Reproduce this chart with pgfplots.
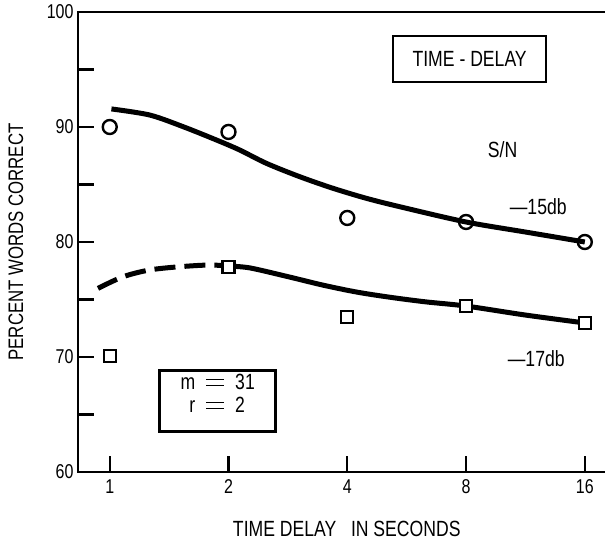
\documentclass[border=0pt]{standalone}
\usepackage{fontspec}
\setmainfont{Liberation Sans}[FakeStretch=0.8]
\usepackage{pgfplots}
\pgfplotsset{compat=1.18}
\newcommand{\fs}[1]{\fontsize{#1}{#1}\selectfont}
\newcommand{\beq}{\makebox[18pt]{\rlap{\rule[3.5pt]{18pt}{1.8pt}}\rule[9.5pt]{18pt}{1.8pt}}}
\begin{document}
\begin{tikzpicture}
\useasboundingbox (-78pt,-68pt) rectangle (527pt,472pt);
\begin{axis}[
  scale only axis,
  width=527pt, height=460pt,
  xmode=log, log basis x=2,
  xmin=0.831, xmax=18,
  ymin=60, ymax=100,
  axis line style={draw=none},
  xtick pos=bottom, ytick pos=left,
  xtick={1,2,4,8,16}, xticklabels={1,2,4,8,16},
  xminorticks=false,
  ytick={60,70,80,90,100},
  minor ytick={65,75,85,95},
  tick align=inside,
  major tick length=16pt, minor tick length=16pt,
  xtick style={black, line width=2.3pt},
  ytick style={black, line width=2.3pt},
  minor tick style={black, line width=2.3pt},
  /pgf/number format/assume math mode=true,
  tick label style={font=\fs{20}},
  xticklabel style={yshift=-4pt},
  yticklabel style={xshift=-1pt},
  xlabel={TIME DELAY\ \ \ IN SECONDS},
  ylabel={PERCENT WORDS CORRECT},
  xlabel style={at={(axis description cs:0.51,-0.124)}, anchor=center, font=\fs{22}},
  ylabel style={at={(axis description cs:-0.118,0.5)}, anchor=center, font=\fs{21}},
  clip=false,
]
\draw[line width=2.6pt, line cap=rect] (rel axis cs:1,1) -- (rel axis cs:0,1) -- (rel axis cs:0,0) -- (rel axis cs:1,0);
% 15 db curve
\addplot[line width=5pt, smooth] coordinates {
 (1.01,91.57) (1.263,91.04) (1.534,90.03) (1.864,88.87) (2.135,88.0) (2.495,86.84)
 (3.03,85.68) (3.68,84.67) (4.47,83.80) (5.43,83.07) (8,81.74) (11.3,80.87) (16,80.0)};
% 17 db dashed
\addplot[line width=5pt, smooth, dash pattern=on 21pt off 9pt] coordinates {
 (0.934,75.97) (1.081,76.98) (1.263,77.57) (1.504,77.85) (1.792,78.0) (2,77.9)};
% 17 db solid
\addplot[line width=5pt, smooth] coordinates {
 (2,77.9) (2.263,77.75) (2.858,76.95) (3.47,76.25) (4.22,75.65) (5.12,75.2) (6.3,74.8)
 (8,74.43) (11.3,73.65) (16,72.96)};
% circles
\addplot[only marks, mark=o, mark size=7pt, mark options={line width=2.4pt, fill=white}] coordinates {
 (1,90.0) (2,89.57) (4,82.09) (8,81.74) (16,80.0)};
% squares
\addplot[only marks, mark=square*, mark size=6pt, mark options={line width=2.4pt, fill=white, draw=black}] coordinates {
 (1,70.09) (2,77.85) (4,73.5) (8,74.43) (16,72.96)};
\node[draw, line width=2.5pt, minimum width=153pt, minimum height=46pt, font=\fs{22}] at (axis cs:8.17,95.91) {TIME - DELAY};
\node[font=\fs{22}] at (axis cs:9.9,88.0) {S/N};
\node[anchor=west, font=\fs{22}, inner sep=0pt] at (axis cs:10.32,83.04) {---15db};
\node[anchor=west, font=\fs{22}, inner sep=0pt] at (axis cs:10.2,69.9) {---17db};
\node[draw, line width=2.5pt, minimum width=116pt, minimum height=61pt] at (axis cs:1.878,66.17) {};
\node[font=\fs{22}, inner sep=0pt, yshift=4pt] at (axis cs:1.878,66.17)
 {\begin{tabular}{@{}r@{\hspace{11pt}}c@{\hspace{11pt}}l@{}}m & \beq & 31\\[1pt] r & \beq & 2\end{tabular}};
\end{axis}
\end{tikzpicture}
\end{document}
